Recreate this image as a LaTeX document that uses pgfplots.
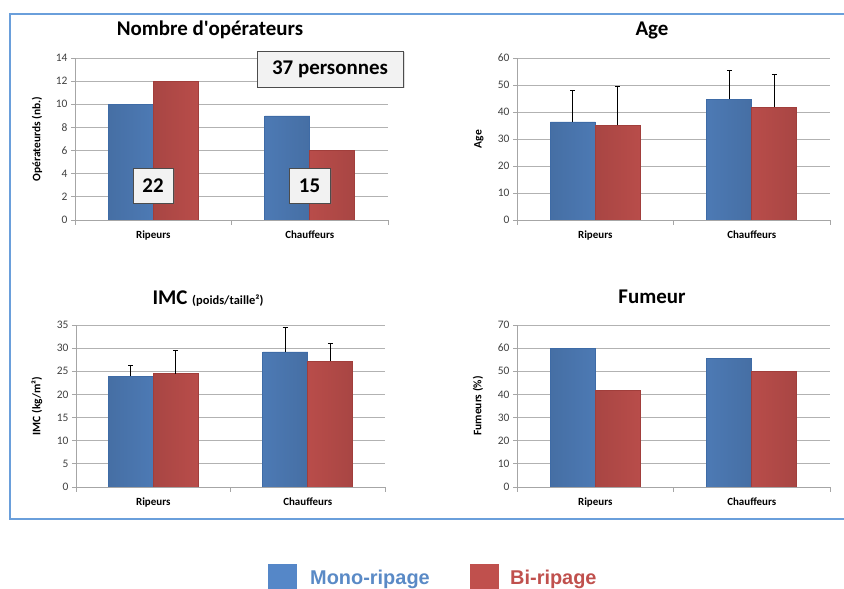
\documentclass[border=0pt]{standalone}
\usepackage{pgfplots}
\pgfplotsset{compat=1.18}
\usepackage{fontspec}
\setmainfont{Carlito}
\newfontfamily\legfont{Liberation Sans}
\usetikzlibrary{shadows}
\definecolor{bmain}{HTML}{5587C8}
\definecolor{bedge}{HTML}{3E6BA6}
\definecolor{rmain}{HTML}{CD5552}
\definecolor{redge}{HTML}{A13E3B}
\definecolor{frameblue}{HTML}{6A9FDB}
\definecolor{ticktext}{HTML}{404040}
\definecolor{legblue}{HTML}{5A8AC6}
\definecolor{legred}{HTML}{C0504D}

\pgfplotsset{
  panel/.style={
    scale only axis, height=162bp,
    ybar=0pt, bar width=45bp,
    xmin=-0.5, xmax=1.5, ymin=0,
    enlargelimits=false,
    xtick={0,1}, xticklabels={Ripeurs,Chauffeurs},
    minor xtick={-0.5,0.5,1.5},
    major x tick style={draw=none},
    axis lines*=left,
    ymajorgrids,
    grid style={gray!60, line width=0.8bp},
    axis line style={gray!70, line width=0.9bp},
    tick style={gray!70, line width=0.9bp},
    major tick length=4bp, minor tick length=5bp,
    tick align=outside,
    /pgf/number format/assume math mode=true,
    yticklabel style={font=\fontsize{11.5}{13}\selectfont, text=ticktext},
    xticklabel style={font=\bfseries\fontsize{11}{12}\selectfont, text=black, yshift=-3bp},
    ylabel style={font=\bfseries\fontsize{11.5}{13}\selectfont, at={([xshift=-38bp]axis description cs:0,0.5)}, anchor=center},
  },
  bblue/.style={draw=bedge, line width=0.6bp, left color=bmain!82!black, right color=bmain!82!black, middle color=bmain},
  bred/.style={draw=redge, line width=0.6bp, left color=rmain!82!black, right color=rmain!82!black, middle color=rmain},
  errs/.style={error bars/.cd, y dir=plus, y explicit,
    error bar style={black, line width=0.8bp},
    error mark options={rotate=90, mark size=2.5bp, black, line width=0.8bp}},
}

\begin{document}
\begin{tikzpicture}
\path[use as bounding box] (0,0) rectangle (844bp,589bp);

% frame
\draw[frameblue, line width=2bp] (846bp,575bp) -- (10bp,575bp) -- (10bp,70bp) -- (846bp,70bp);

% Panel 1: Nombre d'operateurs
\begin{axis}[panel, at={(75bp,369bp)}, anchor=south west, width=313bp,
  ymax=14, ytick={0,2,...,14}, ylabel={Opérateurds (nb.)}]
\addplot[bblue] coordinates {(0,10) (1,9)};
\addplot[bred] coordinates {(0,12) (1,6)};
\end{axis}

% Panel 2: Age
\begin{axis}[panel, at={(517bp,369bp)}, anchor=south west, width=313bp,
  ymax=60, ytick={0,10,...,60}, ylabel={Age}]
\addplot[bblue, errs] coordinates {(0,36.3) +- (0,11.7) (1,44.7) +- (0,10.6)};
\addplot[bred, errs] coordinates {(0,35.0) +- (0,14.3) (1,41.8) +- (0,12.2)};
\end{axis}

% Panel 3: IMC
\begin{axis}[panel, at={(76bp,102bp)}, anchor=south west, width=309bp,
  ymax=35, ytick={0,5,...,35}, ylabel={IMC (kg/m²)},
  ylabel style={at={([xshift=-39bp]axis description cs:0,0.5)}}]
\addplot[bblue, errs] coordinates {(0,23.9) +- (0,2.3) (1,29.2) +- (0,5.3)};
\addplot[bred, errs] coordinates {(0,24.5) +- (0,5.0) (1,27.2) +- (0,3.8)};
\end{axis}

% Panel 4: Fumeur
\begin{axis}[panel, at={(517bp,102bp)}, anchor=south west, width=313bp,
  ymax=70, ytick={0,10,...,70}, ylabel={Fumeurs (\%)},
  ylabel style={at={([xshift=-39bp]axis description cs:0,0.5)}}]
\addplot[bblue] coordinates {(0,60) (1,55.6)};
\addplot[bred] coordinates {(0,41.7) (1,50)};
\end{axis}

% titles
\node[font=\bfseries\fontsize{21}{24}\selectfont] at (210bp,559bp) {Nombre d\textquotesingle opérateurs};
\node[font=\bfseries\fontsize{21}{24}\selectfont] at (652bp,559bp) {Age};
\node[anchor=base, inner sep=0pt] at (208bp,284bp) {\bfseries\fontsize{21}{24}\selectfont IMC {\fontsize{12.5}{14}\selectfont (poids/taille²)}};
\node[font=\bfseries\fontsize{21}{24}\selectfont] at (652bp,292bp) {Fumeur};

% annotation boxes
\tikzset{annot/.style={draw=black!70, fill=black!5, line width=0.8bp, inner sep=0pt,
  font=\bfseries\fontsize{21}{24}\selectfont,
  drop shadow={opacity=0.25, shadow xshift=1.5bp, shadow yshift=-1.5bp}}}
\node[annot, minimum width=40bp, minimum height=35bp] at (153bp,403.5bp) {22};
\node[annot, minimum width=41bp, minimum height=35bp] at (309.5bp,403.5bp) {15};
\node[annot, minimum width=146bp, minimum height=36bp] at (330bp,520bp) {37 personnes};

% legend
\fill[bmain] (268bp,-6bp) rectangle (297bp,25bp);
\fill[legred] (470bp,-6bp) rectangle (499bp,25bp);
\node[anchor=base west, inner sep=0pt, text=legblue, font=\legfont\bfseries\fontsize{20}{22}\selectfont] at (310bp,4.5bp) {Mono-ripage};
\node[anchor=base west, inner sep=0pt, text=legred, font=\legfont\bfseries\fontsize{20}{22}\selectfont] at (510bp,4.5bp) {Bi-ripage};
\end{tikzpicture}
\end{document}
